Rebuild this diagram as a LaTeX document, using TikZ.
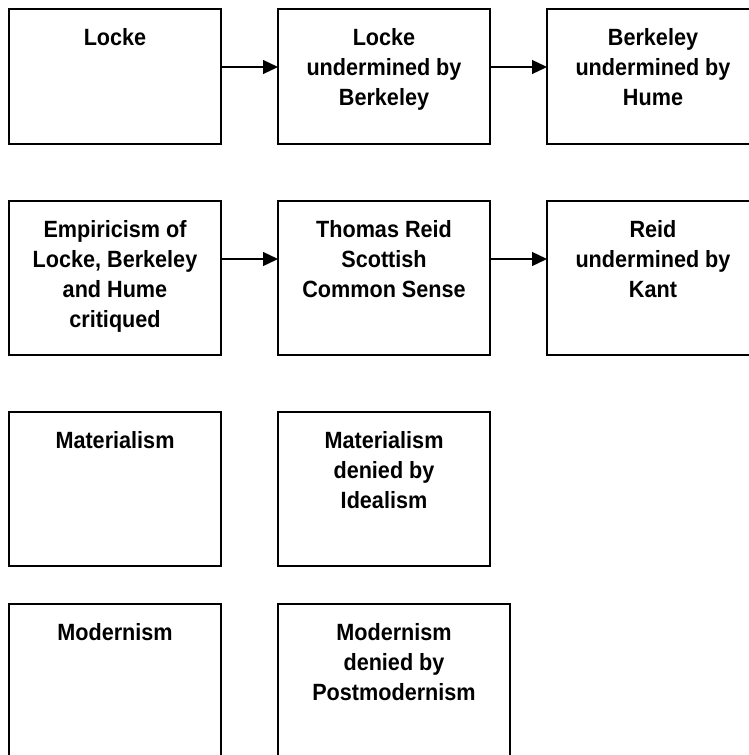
\documentclass[tikz,border=0pt]{standalone}
\usepackage{fontspec}
\newfontfamily\boxfont[FakeStretch=0.92]{Liberation Sans}
\usetikzlibrary{positioning,arrows.meta}

\begin{document}
\begin{tikzpicture}[x=1pt,y=1pt,
  box/.style={draw,line width=1.8pt,minimum width=212pt,minimum height=154pt,inner sep=0pt,outer sep=0pt},
  boxtext/.style={align=center,inner sep=0pt,font=\boxfont\bfseries\fontsize{23.5}{30}\selectfont},
  arr/.style={-{Triangle[length=15pt,width=14pt]},line width=1.3pt}]
\useasboundingbox (0,0) rectangle (749,-755);
\clip (0,0) rectangle (749,-755);
\node [box,minimum height=135pt,anchor=north west] (locke) at (9,-9) {};
\node [box,minimum height=135pt,right=57pt of locke] (lockeb) {};
\node [box,minimum height=135pt,right=57pt of lockeb] (berkh) {};
\node [box,below=57pt of locke] (empir) {};
\node [box,right=57pt of empir] (reid) {};
\node [box,right=57pt of reid] (reidk) {};
\node [box,below=57pt of empir] (mater) {};
\node [box,right=57pt of mater] (materi) {};
\node [box,below=38pt of mater] (modern) {};
\node [box,minimum width=232pt,below right=38pt and 0pt of materi.south west] (modernp) {};

\node [boxtext,below=19.7pt of locke.north] (locke-t) {Locke};
\node [boxtext,below=19.7pt of lockeb.north] (lockeb-t) {Locke\\undermined by\\Berkeley};
\node [boxtext,below=19.7pt of berkh.north] (berkh-t) {Berkeley\\undermined by\\Hume};
\node [boxtext,below=19.7pt of empir.north] (empir-t) {Empiricism of\\Locke, Berkeley\\and Hume\\critiqued};
\node [boxtext,below=19.7pt of reid.north] (reid-t) {Thomas Reid\\Scottish\\Common Sense};
\node [boxtext,below=19.7pt of reidk.north] (reidk-t) {Reid\\undermined by\\Kant};
\node [boxtext,below=19.7pt of mater.north] (mater-t) {Materialism};
\node [boxtext,below=19.7pt of materi.north] (materi-t) {Materialism\\denied by\\Idealism};
\node [boxtext,below=19.7pt of modern.north] (modern-t) {Modernism};
\node [boxtext,below=19.7pt of modernp.north] (modernp-t) {Modernism\\denied by\\Postmodernism};

\draw [arr] ([yshift=-58pt]locke.north east) -- ([yshift=-58pt]lockeb.north west);
\draw [arr] ([yshift=-58pt]lockeb.north east) -- ([yshift=-58pt]berkh.north west);
\draw [arr] ([yshift=-58pt]empir.north east) -- ([yshift=-58pt]reid.north west);
\draw [arr] ([yshift=-58pt]reid.north east) -- ([yshift=-58pt]reidk.north west);
\end{tikzpicture}
\end{document}
